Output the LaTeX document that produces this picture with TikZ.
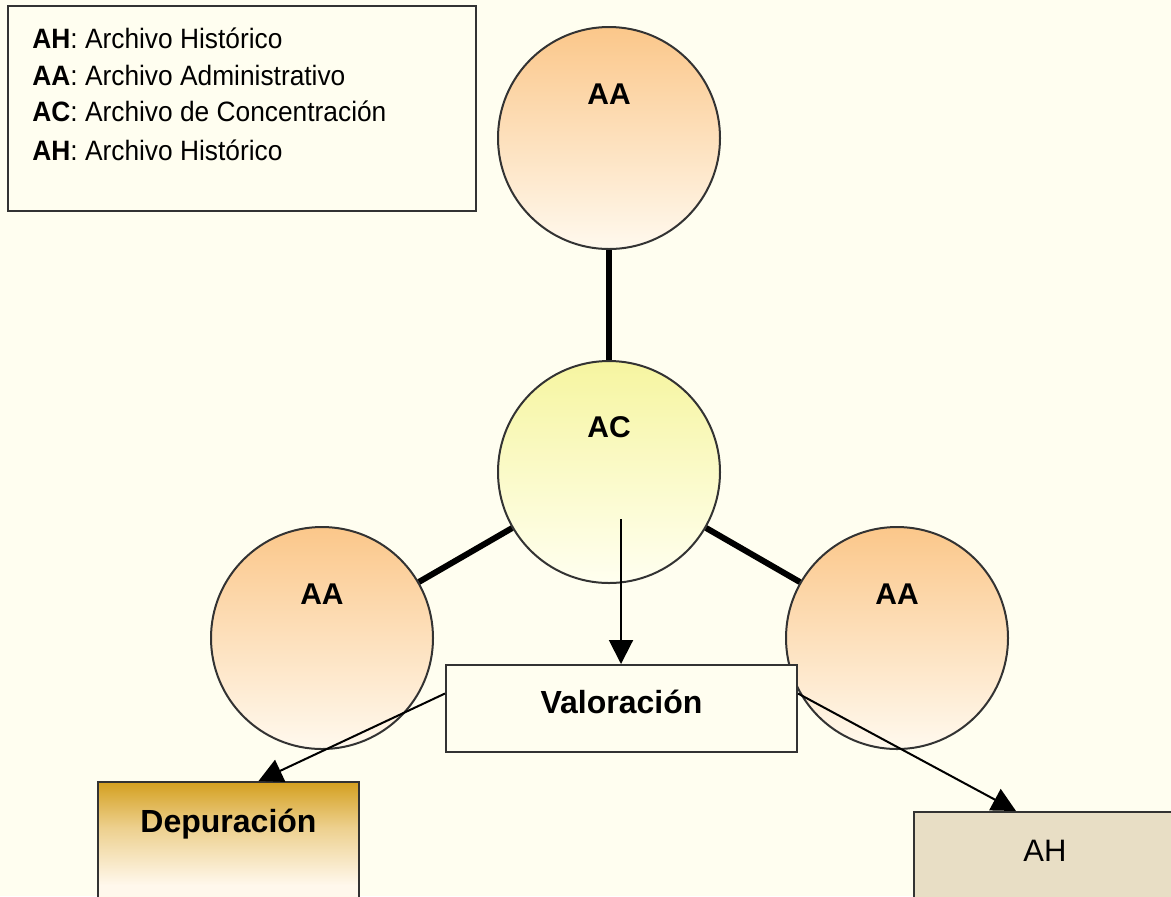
\documentclass[tikz,border=0pt]{standalone}
\usepackage{fontspec}
\setmainfont{Liberation Sans}
\newfontfamily\legendfont[FakeStretch=0.94]{Liberation Sans}
\usetikzlibrary{arrows.meta}

\definecolor{paper}{HTML}{FFFEF0}
\definecolor{ink}{HTML}{333333}
\definecolor{aaTop}{HTML}{FBC78A}
\definecolor{aaBot}{HTML}{FFF9EE}
\definecolor{acTop}{HTML}{F6F5A0}
\definecolor{acBot}{HTML}{FFFFF0}
\definecolor{gold}{HTML}{D4A020}
\definecolor{goldMid}{HTML}{EDD08E}
\definecolor{goldLow}{HTML}{FFF8EC}
\definecolor{sand}{HTML}{E8DEC5}

% vertical fill of the "Depuración" box: gold at the top, fading out
\pgfdeclareverticalshading{depshade}{100bp}{%
  color(0bp)=(goldLow); color(32bp)=(goldLow); color(56bp)=(goldMid); color(75bp)=(gold); color(100bp)=(gold)}

\begin{document}
\begin{tikzpicture}[x=0.5pt,y=-0.5pt,
  bubble/.style={circle, draw=ink, line width=1pt, minimum size=111pt, inner sep=0pt},
  aabubble/.style={bubble, top color=aaTop, bottom color=aaBot},
  acbubble/.style={bubble, top color=acTop, bottom color=acBot},
  tag/.style={font=\bfseries\fontsize{15}{18}\selectfont, anchor=base, inner sep=0pt},
  legendtxt/.style={font=\legendfont\fontsize{14}{17}\selectfont, anchor=base west, inner sep=0pt},
  panel/.style={draw=ink, line width=1pt, inner sep=0pt},
  link/.style={line width=3pt, black},
  flow/.style={line width=1pt, draw=black, -{Triangle[length=12pt,width=12pt]}}
]
\useasboundingbox (0,0) rectangle (1171,896);
\clip (0,0) rectangle (1171,896);
\fill[paper] (0,0) rectangle (1171,896);

% legend
\node[panel, fill=paper, minimum width=234pt, minimum height=102.5pt, anchor=north west] (legend) at (7,5) {};
\node[legendtxt] (l1) at (32,48) {\textbf{AH}: Archivo Histórico};
\node[legendtxt] (l2) at (32,85) {\textbf{AA}: Archivo Administrativo};
\node[legendtxt] (l3) at (32,121) {\textbf{AC}: Archivo de Concentración};
\node[legendtxt] (l4) at (32,160) {\textbf{AH}: Archivo Histórico};

% archive circles
\node[aabubble] (aaT) at (609,138) {};
\node[acbubble] (ac) at (609,472) {};
\node[aabubble] (aaL) at (322,638) {};
\node[aabubble] (aaR) at (897,638) {};

\draw[link] (aaT) -- (ac);
\draw[link] (ac) -- (aaL);
\draw[link] (ac) -- (aaR);

\node[tag] (aaTtxt) at ([yshift=17pt]aaT.center) {AA};
\node[tag] (actxt) at ([yshift=17.5pt]ac.center) {AC};
\node[tag] (aaLtxt) at ([yshift=17pt]aaL.center) {AA};
\node[tag] (aaRtxt) at ([yshift=17pt]aaR.center) {AA};

% process boxes
\node[panel, fill=paper, minimum width=175.5pt, minimum height=43.5pt] (val) at (621.5,708.5) {};
\node[tag, font=\bfseries\fontsize{16}{19}\selectfont] (valtxt) at ([yshift=-2.5pt]val.center) {Valoración};

\node[panel, shading=depshade, minimum width=130.5pt, minimum height=60pt, anchor=north west] (dep) at (97,781) {};
\node[tag, font=\bfseries\fontsize{16}{19}\selectfont] (deptxt) at ([yshift=-25.5pt]dep.north) {Depuración};

\node[panel, fill=sand, minimum width=131pt, minimum height=60pt, anchor=north west] (ah) at (913,811) {};
\node[tag, font=\fontsize{15.5}{18}\selectfont] (ahtxt) at ([yshift=-25pt]ah.north) {AH};

% flows
\coordinate (acIn) at (621,519);
\draw[flow] (acIn) -- (acIn |- val.north);
\draw[flow] ([yshift=7.5pt]val.west) -- ([xshift=15pt]dep.north);
\draw[flow] ([yshift=7.5pt]val.east) -- ([xshift=-14.5pt]ah.north);
\end{tikzpicture}
\end{document}
